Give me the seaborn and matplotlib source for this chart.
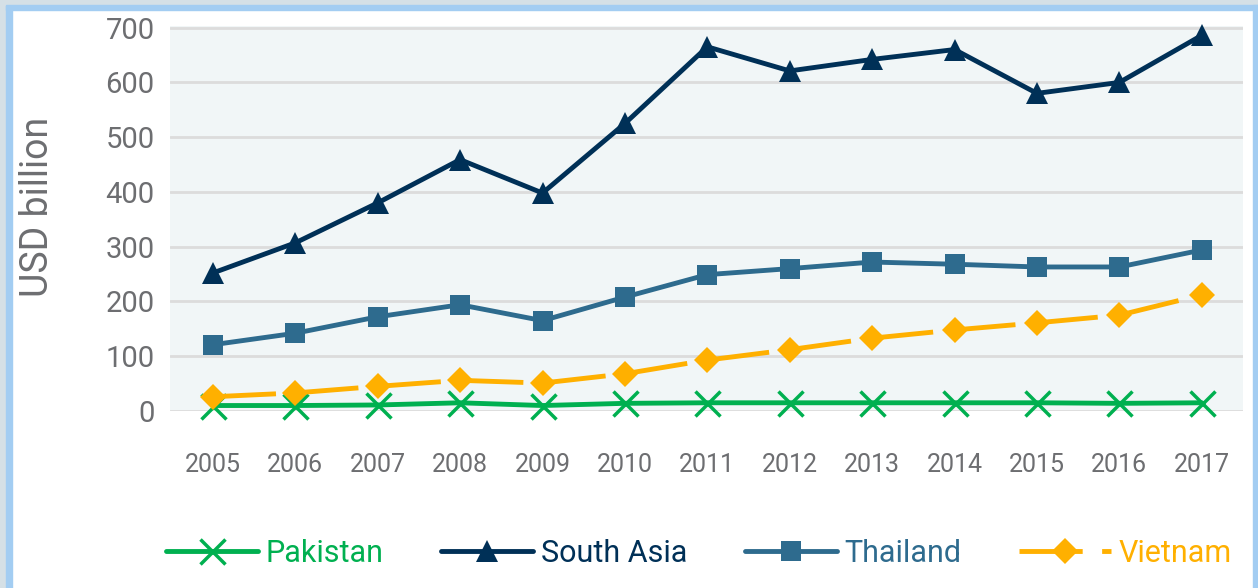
import matplotlib
matplotlib.use("Agg")
import matplotlib.pyplot as plt
import matplotlib.patches as mpatches
import seaborn as sns

years = [2005, 2006, 2007, 2008, 2009, 2010, 2011, 2012, 2013, 2014, 2015, 2016, 2017]
pakistan = [10, 10, 11, 15, 10, 14, 15, 15, 15, 15, 15, 14, 15]
south_asia = [252, 307, 380, 459, 398, 525, 665, 621, 642, 660, 580, 600, 686]
thailand = [121, 142, 172, 194, 165, 208, 249, 260, 272, 268, 263, 263, 294]
vietnam = [26, 33, 45, 56, 51, 68, 93, 112, 133, 148, 161, 175, 212]

series = ["Pakistan", "South Asia", "Thailand", "Vietnam"]
values = [pakistan, south_asia, thailand, vietnam]
colors = ["#00b050", "#003057", "#2e6b8e", "#ffb000"]
markers = ["x", "^", "s", "D"]
msizes = [18, 16, 14, 13.5]

sns.set_theme(style="white")
plt.rcParams["font.family"] = ["Roboto", "DejaVu Sans"]

fig = plt.figure(figsize=(12.58, 5.88), dpi=100)
W, H = 1258, 588
ax = fig.add_axes([170 / W, (H - 411) / H, (1243 - 170) / W, (411 - 26) / H])
ax.set_facecolor("#f1f6f7")

for name, vals, col, mk, ms in zip(series, values, colors, markers, msizes):
    sns.lineplot(x=years, y=vals, ax=ax, color=col, marker=mk, markersize=ms,
                 markeredgewidth=2.5 if mk == "x" else 0, markeredgecolor=col,
                 linewidth=3.5, label=name, clip_on=False, zorder=3)
    if name == "Vietnam":
        ax.lines[-1].set_dashes((13, 4))

ax.set_xlim(2004.48, 2017.5)
ax.set_ylim(0, 703)
ax.set_yticks(range(0, 701, 100))
ax.set_xticks(years)
ax.yaxis.grid(True, color="#dcdcdc", linewidth=2, zorder=0)
ax.set_axisbelow(True)
for s in ax.spines.values():
    s.set_visible(False)
ax.tick_params(axis="y", length=0, pad=11, labelsize=21, labelcolor="#6d6e71")
ax.tick_params(axis="x", length=0, pad=30, labelsize=18, labelcolor="#6d6e71")
ax.set_ylabel("USD billion", fontsize=27, color="#6d6e71")
ax.yaxis.set_label_coords(-0.106, 0.53)
ax.set_xlabel("")

handles, labels = ax.get_legend_handles_labels()
ax.get_legend().remove()
leg = fig.legend(handles, labels, loc="center", bbox_to_anchor=(699 / W, (H - 553) / H),
                 ncol=4, frameon=False, fontsize=22, handlelength=3.0,
                 handletextpad=0.25, columnspacing=1.9, numpoints=1)
for txt, col in zip(leg.get_texts(), colors):
    txt.set_color(col)

# frame around the figure
fig.patches.append(mpatches.Rectangle((0, 0), 6 / W, 1, transform=fig.transFigure,
                                      color="#d5e0e6", zorder=0))
fig.patches.append(mpatches.Rectangle((6 / W, 0), 6 / W, 1, transform=fig.transFigure,
                                      color="#a3cdf2", zorder=0))
fig.patches.append(mpatches.Rectangle((0, 1 - 5 / H), 1, 5 / H, transform=fig.transFigure,
                                      color="#d5e0e6", zorder=0))
fig.patches.append(mpatches.Rectangle((6 / W, 1 - 10 / H), 1, 5 / H, transform=fig.transFigure,
                                      color="#a3cdf2", zorder=0))
fig.patches.append(mpatches.Rectangle((1 - 5 / W, 0), 5 / W, 1 - 5 / H, transform=fig.transFigure,
                                      color="#a3cdf2", zorder=0))

fig.savefig("out.png", dpi=100)
